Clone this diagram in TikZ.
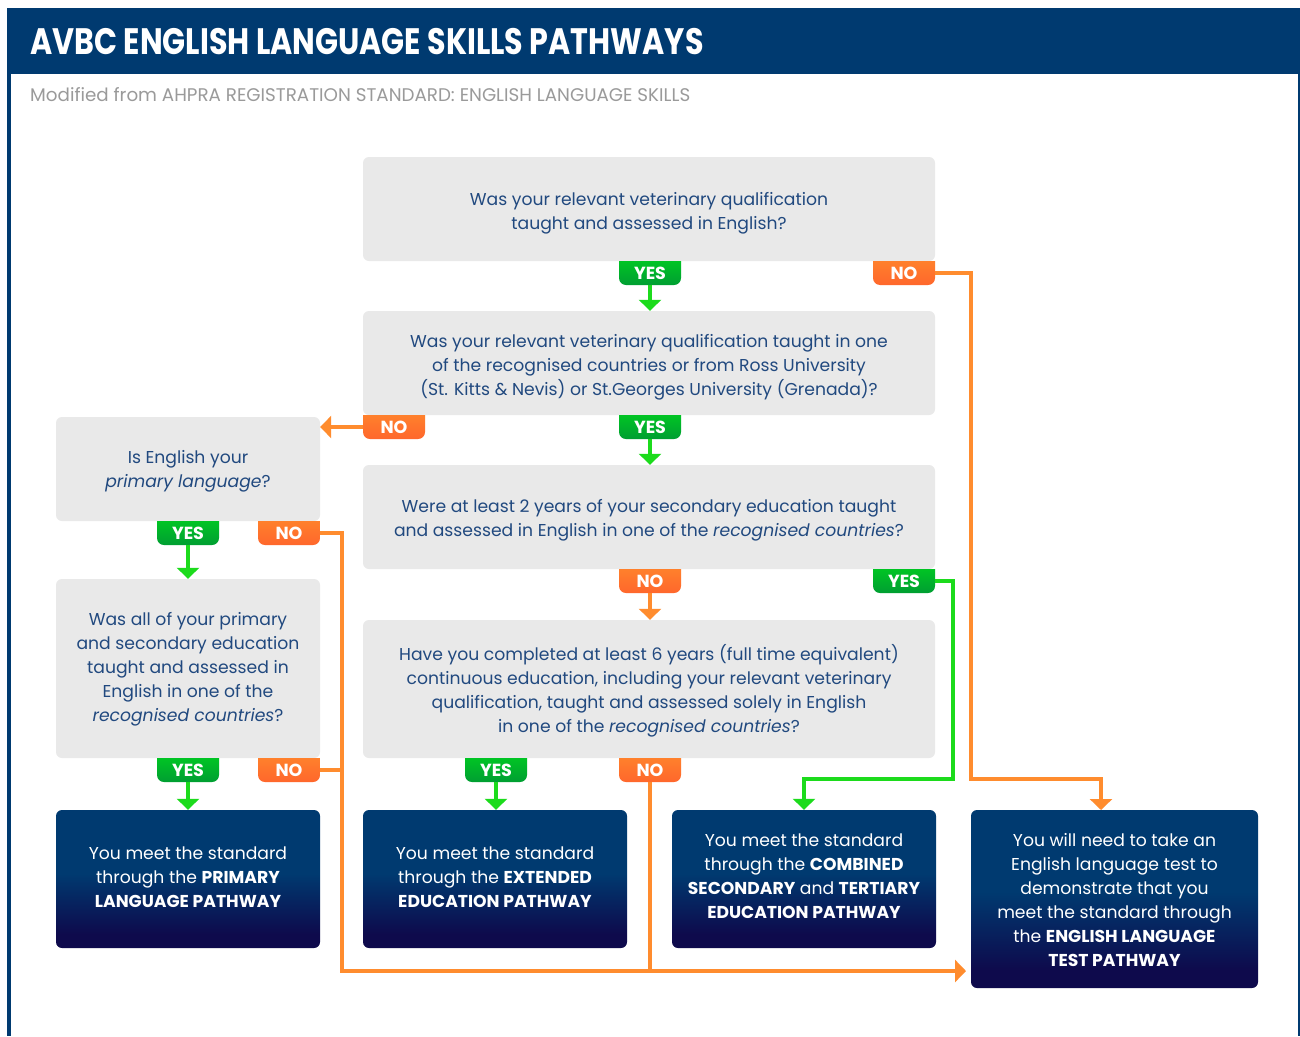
\documentclass[tikz,border=0pt]{standalone}
\usepackage{fontspec}
\setmainfont{Poppins}
\newfontfamily\titlefont[FakeStretch=0.82]{Poppins}
\usetikzlibrary{arrows.meta}
\definecolor{hdr}{HTML}{003A70}
\definecolor{rbot}{HTML}{0E0A4C}
\definecolor{qgray}{HTML}{E9E9E9}
\definecolor{qtext}{HTML}{21497F}
\definecolor{subgray}{HTML}{9A9A9A}
\definecolor{ocol}{HTML}{FF8C2E}
\definecolor{otop}{HTML}{FF8A2C}
\definecolor{obot}{HTML}{FF672C}
\definecolor{gcol}{HTML}{1CDB1C}
\definecolor{gtop}{HTML}{00D41E}
\definecolor{gbot}{HTML}{009E32}
\pgfdeclareverticalshading{rboxshade}{100bp}{color(0bp)=(rbot); color(30bp)=(rbot); color(52bp)=(hdr); color(100bp)=(hdr)}
\newcommand\badgeat[5]{%
  \begin{scope}
    \clip (#2-31,#3) rectangle (#2+31,#3+30);
    \shade[#5shade, rounded corners=7pt] (#2-31,#3-10) rectangle (#2+31,#3+24);
  \end{scope}
  \node[badgetext] (#1) at (#2,#3+12) {#4};}
\begin{document}
\begin{tikzpicture}[x=1pt,y=-1pt,
  qbox/.style={fill=qgray, rounded corners=6pt, inner sep=0pt},
  qtxt/.style={text=qtext, align=center, inner sep=0pt, font=\fontsize{17.2}{24}\selectfont},
  rbox/.style={shading=rboxshade, rounded corners=6pt, inner sep=0pt},
  rtxt/.style={text=white, align=center, inner sep=0pt, font=\fontsize{17.2}{24}\selectfont},
  badgetext/.style={text=white, font=\fontsize{17.5}{17.5}\selectfont\bfseries, minimum width=62pt,
    minimum height=24pt, inner sep=0pt},
  gshade/.style={top color=gtop, bottom color=gbot},
  oshade/.style={top color=otop, bottom color=obot},
  oline/.style={draw=ocol, line width=3.5pt},
  gline/.style={draw=gcol, line width=3.5pt},
  oarrow/.style={oline, -{Triangle[width=22pt,length=11pt]}},
  garrow/.style={gline, -{Triangle[width=22pt,length=11pt]}}]
\useasboundingbox (0,0) rectangle (1300,1036);
\fill[white] (0,0) rectangle (1300,1036);
% header and frame
\fill[hdr] (7,8) rectangle (1300,74);
\fill[hdr] (7,74) rectangle (11,1036);
\fill[hdr] (1298,74) rectangle (1300,1036);
\node[anchor=base west, inner sep=0pt, text=white, font=\titlefont\fontsize{36.8}{36.8}\selectfont\bfseries] (title) at (30,54) {AVBC ENGLISH LANGUAGE SKILLS PATHWAYS};
\node[anchor=base west, inner sep=0pt, text=subgray, font=\fontsize{18.3}{18.3}\selectfont] (sub) at (30,101) {Modified from AHPRA REGISTRATION STANDARD: ENGLISH LANGUAGE SKILLS};
% question boxes
\node[qbox, minimum width=572pt, minimum height=104pt] (q1) at (649,209) {};
\node[qtxt] (q1t) at (649,213) {Was your relevant veterinary qualification\\taught and assessed in English?};
\node[qbox, minimum width=572pt, minimum height=104pt] (q2) at (649,363) {};
\node[qtxt] (q2t) at (649,367) {Was your relevant veterinary qualification taught in one\\of the recognised countries or from Ross University\\(St. Kitts \& Nevis) or St.Georges University (Grenada)?};
\node[qbox, minimum width=264pt, minimum height=104pt] (q3) at (188,469) {};
\node[qtxt] (q3t) at (188,471) {Is English your\\\textit{primary language}?};
\node[qbox, minimum width=572pt, minimum height=104pt] (q4) at (649,517) {};
\node[qtxt] (q4t) at (649,520) {Were at least 2 years of your secondary education taught\\and assessed in English in one of the \textit{recognised countries}?};
\node[qbox, minimum width=264pt, minimum height=179pt] (q5) at (188,668.5) {};
\node[qtxt] (q5t) at (188,669.5) {Was all of your primary\\and secondary education\\taught and assessed in\\English in one of the\\\textit{recognised countries}?};
\node[qbox, minimum width=572pt, minimum height=138pt] (q6) at (649,689) {};
\node[qtxt] (q6t) at (649,691) {Have you completed at least 6 years (full time equivalent)\\continuous education, including your relevant veterinary\\qualification, taught and assessed solely in English\\in one of the \textit{recognised countries}?};
% result boxes
\node[rbox, minimum width=264pt, minimum height=138pt] (r1) at (188,879) {};
\node[rtxt] (r1t) at (188,877) {You meet the standard\\through the \textbf{PRIMARY}\\\textbf{LANGUAGE PATHWAY}};
\node[rbox, minimum width=264pt, minimum height=138pt] (r2) at (495,879) {};
\node[rtxt] (r2t) at (495,877) {You meet the standard\\through the \textbf{EXTENDED}\\\textbf{EDUCATION PATHWAY}};
\node[rbox, minimum width=264pt, minimum height=138pt] (r3) at (804,879) {};
\node[rtxt] (r3t) at (804,876) {You meet the standard\\through the \textbf{COMBINED}\\\textbf{SECONDARY} and \textbf{TERTIARY}\\\textbf{EDUCATION PATHWAY}};
\node[rbox, minimum width=287pt, minimum height=178pt] (r4) at (1114.5,899) {};
\node[rtxt] (r4t) at (1114.5,900) {You will need to take an\\English language test to\\demonstrate that you\\meet the standard through\\the \textbf{ENGLISH LANGUAGE}\\\textbf{TEST PATHWAY}};
% badges
\badgeat{q1yes}{650}{261}{YES}{g}
\badgeat{q1no}{904}{261}{NO}{o}
\badgeat{q2no}{394}{415}{NO}{o}
\badgeat{q2yes}{650}{415}{YES}{g}
\badgeat{q3yes}{188}{521}{YES}{g}
\badgeat{q3no}{289}{521}{NO}{o}
\badgeat{q4no}{650}{569}{NO}{o}
\badgeat{q4yes}{904}{569}{YES}{g}
\badgeat{q5yes}{188}{758}{YES}{g}
\badgeat{q5no}{289}{758}{NO}{o}
\badgeat{q6yes}{496}{758}{YES}{g}
\badgeat{q6no}{650}{758}{NO}{o}
% bend points
\coordinate (b1) at (971,273);
\coordinate (b2) at (971,779);
\coordinate (b3) at (1101,779);
\coordinate (r4in) at (1101,810);
\coordinate (c1) at (342,533);
\coordinate (c2) at (342,971);
\coordinate (c3) at (342,770);
\coordinate (c4) at (650,971);
\coordinate (r4w) at (966,971);
\coordinate (d1) at (953,581);
\coordinate (d2) at (953,779);
\coordinate (d3) at (804,779);
% connectors
\draw[garrow] (q1yes.south) -- (q1yes.south |- q2.north);
\draw[garrow] (q2yes.south) -- (q2yes.south |- q4.north);
\draw[oarrow] (q4no.south) -- (q4no.south |- q6.north);
\draw[garrow] (q3yes.south) -- (q3yes.south |- q5.north);
\draw[garrow] (q5yes.south) -- (q5yes.south |- r1.north);
\draw[garrow] (q6yes.south) -- (q6yes.south |- r2.north);
\draw[oarrow] (q2no.west) -- (q2no.west -| q3.east);
\draw[oarrow] (q1no.east) -- (b1) -- (b2) -- (b3) -- (r4in);
\draw[garrow] (q4yes.east) -- (d1) -- (d2) -- (d3) -- (r3.north);
\draw[oarrow] (q3no.east) -- (c1) -- (c2) -- (r4w);
\draw[oline] (q5no.east) -- (c3);
\draw[oline] (q6no.south) -- (c4);
\end{tikzpicture}
\end{document}
